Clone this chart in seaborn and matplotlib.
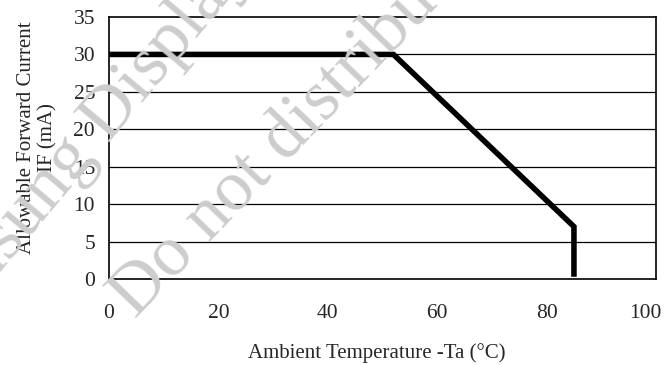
import matplotlib
matplotlib.use("Agg")
import matplotlib.pyplot as plt
import matplotlib.transforms as mtransforms
import pandas as pd
import seaborn as sns

# derating curve
temperature = [0, 52, 85, 85]
forward_current = [30, 30, 7, 0.3]
x_ticks = [0, 20, 40, 60, 80, 100]
y_ticks = [0, 5, 10, 15, 20, 25, 30, 35]

df = pd.DataFrame({"Ta": temperature, "IF": forward_current})

sns.set_style("white")
plt.rcParams["font.family"] = ["Liberation Serif", "DejaVu Serif"]

fig = plt.figure(figsize=(6.67, 3.65), dpi=100)
ax = fig.add_axes([0.1634, 0.2356, 0.8201, 0.7178])

# watermark behind the plot
fig.text(0.115, 0.575, "Samsung Display", rotation=50, fontsize=52,
         color="#cdcdcd", ha="center", va="center", zorder=0)
fig.text(0.439, 0.641, "Do not distribute", rotation=46, fontsize=52,
         color="#cdcdcd", ha="center", va="center", zorder=0)
ax.patch.set_alpha(0)

# horizontal grid lines
for y in y_ticks[1:-1]:
    ax.axhline(y, color="black", lw=0.9, zorder=1)

sns.lineplot(
    x="Ta",
    y="IF",
    data=df,
    sort=False,
    estimator=None,
    color="black",
    lw=4,
    ax=ax,
    zorder=3,
)
ax.lines[-1].set_solid_capstyle("butt")
ax.lines[-1].set_solid_joinstyle("miter")

ax.set_xlim(0, 100)
ax.set_ylim(0, 35)
ax.set_xticks(x_ticks)
ax.set_yticks(y_ticks)
ax.tick_params(axis="x", direction="in", length=4, width=1, pad=18,
               labelsize=15.5, color="black")
ax.tick_params(axis="y", direction="out", length=2, width=1, pad=8,
               labelsize=15.5, color="black")
for s in ax.spines.values():
    s.set_color("black")
    s.set_linewidth(1.2)

# last x label sits a bit inside the figure edge
last = ax.get_xticklabels()[-1]
last.set_transform(last.get_transform()
                   + mtransforms.ScaledTranslation(-8 / 72, 0, fig.dpi_scale_trans))

ax.set_xlabel("Ambient Temperature -Ta (°C)", fontsize=15)
ax.xaxis.set_label_coords(0.49, -0.244)
ax.set_ylabel("Allowable Forward Current\nIF (mA)", fontsize=15,
              linespacing=1.1)
ax.yaxis.set_label_coords(-0.095, 0.538)

plt.savefig("out.png", dpi=100)
